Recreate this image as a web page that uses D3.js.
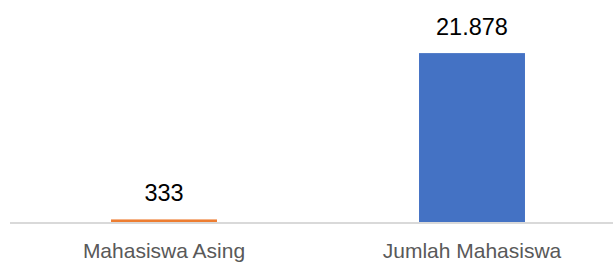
<!DOCTYPE html>
<html>
<head>
<meta charset="utf-8">
<script src="https://cdn.jsdelivr.net/npm/d3@7"></script>
<style>
  html, body { margin: 0; padding: 0; background: #fff; overflow: hidden; }
  svg { display: block; font-family: "Liberation Sans", Arial, sans-serif; }
</style>
</head>
<body>
<svg id="chart" width="613" height="264"></svg>
<script>
const categories = ["Mahasiswa Asing", "Jumlah Mahasiswa"];
const values = [333, 21878];
const valueLabels = ["333", "21.878"];
const barColors = ["#ED7D31", "#4472C4"];

const svg = d3.select("#chart");

// plot area runs a bit past the right edge, like the cropped original
const x = d3.scaleBand()
  .domain(categories)
  .range([10, 626])
  .paddingInner(0.656)
  .paddingOuter(0.328);

const y = d3.scaleLinear()
  .domain([0, 25000])
  .range([222, 29]);

const rows = categories.map((c, i) => ({ cat: c, val: values[i], label: valueLabels[i], color: barColors[i] }));

svg.selectAll("rect.bar")
  .data(rows)
  .enter()
  .append("rect")
  .attr("class", "bar")
  .attr("x", d => x(d.cat))
  .attr("y", d => y(d.val))
  .attr("width", x.bandwidth())
  .attr("height", d => y(0) - y(d.val))
  .attr("fill", d => d.color);

// category axis line
svg.append("line")
  .attr("x1", 10)
  .attr("x2", 613)
  .attr("y1", y(0) + 1)
  .attr("y2", y(0) + 1)
  .attr("stroke", "#d9d9d9")
  .attr("stroke-width", 2);

svg.selectAll("text.val")
  .data(rows)
  .enter()
  .append("text")
  .attr("class", "val")
  .attr("x", d => x(d.cat) + x.bandwidth() / 2)
  .attr("y", d => y(d.val) - 18)
  .attr("text-anchor", "middle")
  .style("font-size", "23.5px")
  .attr("fill", "#000")
  .text(d => d.label);

svg.selectAll("text.cat")
  .data(rows)
  .enter()
  .append("text")
  .attr("class", "cat")
  .attr("x", d => x(d.cat) + x.bandwidth() / 2)
  .attr("y", 258)
  .attr("text-anchor", "middle")
  .style("font-size", "21px")
  .attr("fill", "#595959")
  .text(d => d.cat);
</script>
</body>
</html>
